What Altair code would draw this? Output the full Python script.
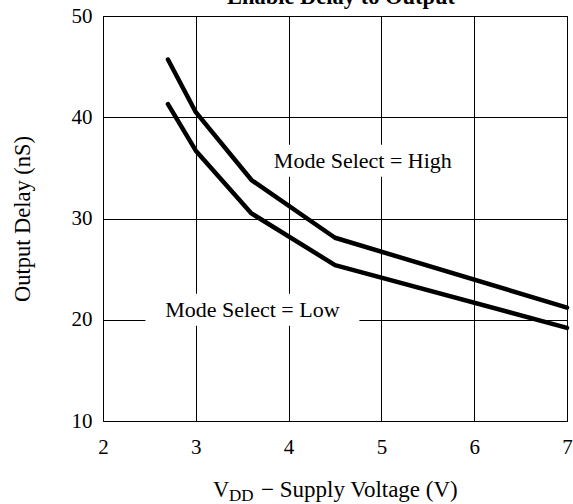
import altair as alt
import pandas as pd

# ---- data ----
vdd = [2.7, 3.0, 3.6, 4.5, 7.0]
delay_high = [45.7, 40.5, 33.8, 28.1, 21.2]
delay_low = [41.3, 36.7, 30.5, 25.4, 19.2]

label_texts = ["Mode Select = High", "Mode Select = Low"]
label_x = [4.80, 3.61]
label_y = [35.7, 21.0]

x_ticks = [2, 3, 4, 5, 6, 7]
y_ticks = [10, 20, 30, 40, 50]

chart_title = "Enable Delay to Output"
y_title = "Output Delay (nS)"
x_title_main = "V"
x_title_sub = "DD"
x_title_rest = "\u2212 Supply Voltage (V)"

rows = []
for v, h in zip(vdd, delay_high):
    rows.append({"x": v, "y": h, "mode": "High"})
for v, l in zip(vdd, delay_low):
    rows.append({"x": v, "y": l, "mode": "Low"})
df = pd.DataFrame(rows)
labels = pd.DataFrame({"text": label_texts, "x": label_x, "y": label_y})

FONT = "Liberation Serif"
W, H = 464, 405

xs = alt.Scale(domain=[2, 7], nice=False, zero=False)
ys = alt.Scale(domain=[10, 50], nice=False, zero=False)

x_axis = alt.Axis(values=x_ticks, title=None, grid=True, gridColor="black",
                  gridOpacity=1, gridWidth=1, ticks=False, tickSize=0, domain=False,
                  labelFont=FONT, labelFontSize=21, labelColor="black",
                  labelPadding=15, format="d", labelFlush=False)
y_axis = alt.Axis(values=y_ticks, title=y_title, grid=True, gridColor="black",
                  gridOpacity=1, gridWidth=1, ticks=False, tickSize=0, domain=False,
                  labelFont=FONT, labelFontSize=21, labelColor="black",
                  labelPadding=11, format="d", labelFlush=False,
                  titleFont=FONT, titleFontSize=22.5, titleFontWeight="normal",
                  titleColor="black", titleX=-81, titleY=202.5, titleAngle=270,
                  titleAlign="center", titleBaseline="middle")

X = alt.X("x:Q", scale=xs, axis=x_axis)
Y = alt.Y("y:Q", scale=ys, axis=y_axis)

lines = alt.Chart(df).mark_line(color="black", strokeWidth=4.5, strokeCap="round",
                                strokeJoin="round").encode(
    x=X, y=Y, detail="mode:N",
)

boxes = alt.Chart(labels).mark_rect(fill="white", xOffset=-107, x2Offset=107,
                                    yOffset=-16, y2Offset=16).encode(
    x=X, x2="x:Q", y=Y, y2="y:Q",
)

texts = alt.Chart(labels).mark_text(font=FONT, fontSize=22, color="black",
                                    align="center", baseline="middle").encode(
    x=X, y=Y, text="text:N",
)

title_mark = alt.Chart(pd.DataFrame({"t": [chart_title]})).mark_text(
    font=FONT, fontSize=22.5, fontWeight="bold", color="black",
    align="center", baseline="alphabetic").encode(
    x=alt.value(238), y=alt.value(-12), text="t:N")

xt1 = alt.Chart(pd.DataFrame({"t": [x_title_main]})).mark_text(
    font=FONT, fontSize=22.5, color="black", align="left", baseline="alphabetic").encode(
    x=alt.value(110), y=alt.value(481), text="t:N")
xt2 = alt.Chart(pd.DataFrame({"t": [x_title_sub]})).mark_text(
    font=FONT, fontSize=17, color="black", align="left", baseline="alphabetic").encode(
    x=alt.value(126), y=alt.value(485), text="t:N")
xt3 = alt.Chart(pd.DataFrame({"t": [x_title_rest]})).mark_text(
    font=FONT, fontSize=23, color="black", align="left", baseline="alphabetic").encode(
    x=alt.value(158), y=alt.value(481), text="t:N")

chart = alt.layer(lines, boxes, texts, title_mark, xt1, xt2, xt3).properties(
    width=W, height=H,
    padding={"left": 103, "top": 16, "right": 6, "bottom": 83},
    autosize=alt.AutoSizeParams(type="none"),
    background="white",
).configure_view(stroke="black", strokeWidth=1)

chart.save("out.html", embed_options={"renderer": "svg", "actions": False})
